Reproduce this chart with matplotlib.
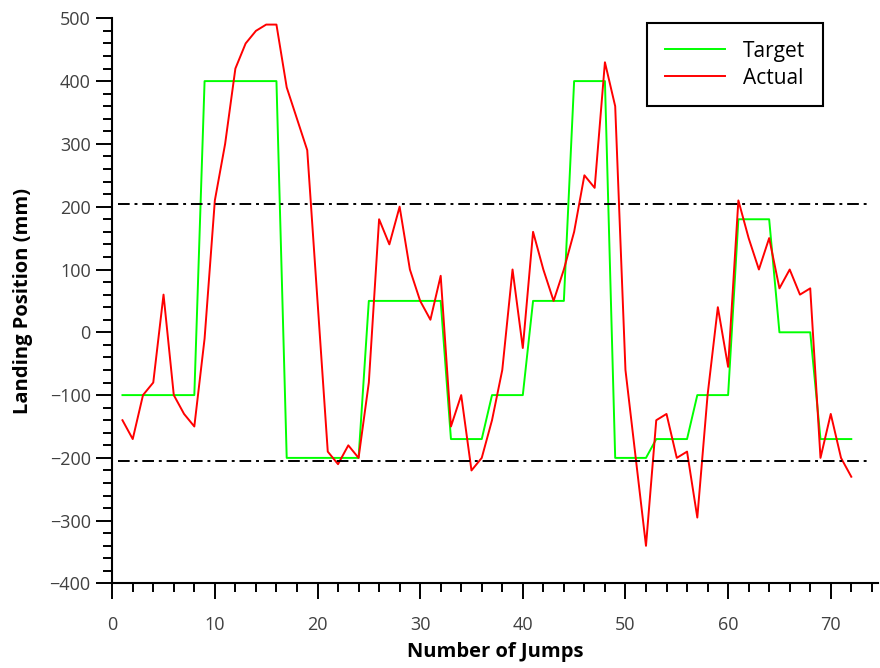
import numpy as np
import matplotlib
matplotlib.use("Agg")
import matplotlib.pyplot as plt
from matplotlib.ticker import MultipleLocator

plt.rcParams['font.family'] = ['Open Sans', 'DejaVu Sans']

jumps = list(range(1, 73))

target = ([-100] * 8 + [400] * 8 + [-200] * 8 + [50] * 8 +
          [-170] * 4 + [-100] * 4 + [50] * 4 + [400] * 4 +
          [-200] * 4 + [-170] * 4 + [-100] * 4 + [180] * 4 +
          [0] * 4 + [-170] * 4)

actual = [-140, -170, -100, -80, 60, -100, -130, -150, -10, 210,
          300, 420, 460, 480, 490, 490, 390, 340, 290, 50,
          -190, -210, -180, -200, -80, 180, 140, 200, 100, 50,
          20, 90, -150, -100, -220, -200, -140, -60, 100, -25,
          160, 100, 50, 100, 160, 250, 230, 430, 360, -60,
          -200, -340, -140, -130, -200, -190, -295, -100, 40, -55,
          210, 150, 100, 150, 70, 100, 60, 70, -200, -130,
          -200, -230]

limits = [205, -205]

fig = plt.figure(figsize=(8.8, 6.68), dpi=100)
ax = fig.add_axes([0.1275, 0.1265, 0.8702, 0.8461])

ax.plot(jumps, target, color='#00ff00', lw=1.4, label='Target')
ax.plot(jumps, actual, color='#ff0000', lw=1.4, label='Actual')
ax.hlines(limits, 0.6, 73.5, colors='black', lw=1.4,
          linestyles=[(0, (6, 2.5, 1.5, 2.5))])

ax.set_xlim(0, 74.6)
ax.set_ylim(-400, 500)
ax.xaxis.set_major_locator(MultipleLocator(10))
ax.xaxis.set_minor_locator(MultipleLocator(2))
ax.yaxis.set_major_locator(MultipleLocator(100))
ax.yaxis.set_minor_locator(MultipleLocator(20))

for side in ('top', 'right'):
    ax.spines[side].set_visible(False)
for side in ('left', 'bottom'):
    ax.spines[side].set_linewidth(1.5)

ax.tick_params(which='major', direction='out', length=11.5, width=1.4,
               labelsize=13, labelcolor='#404040', pad=4)
ax.tick_params(which='minor', direction='out', length=6.5, width=1.4)
ax.tick_params(axis='x', which='major', pad=12)

ax.set_xlabel('Number of Jumps', fontsize=14.5, fontweight='bold', labelpad=6)
ax.set_ylabel('Landing Position (mm)', fontsize=14.5, fontweight='bold', labelpad=12)

leg = ax.legend(loc='upper right', bbox_to_anchor=(0.928, 0.992),
                borderaxespad=0, fontsize=15, handlelength=2.9,
                handletextpad=0.85, labelspacing=0.3, borderpad=0.85,
                fancybox=False, framealpha=1, edgecolor='black')
leg.get_frame().set_linewidth(1.5)

fig.savefig('out.png', dpi=100)
